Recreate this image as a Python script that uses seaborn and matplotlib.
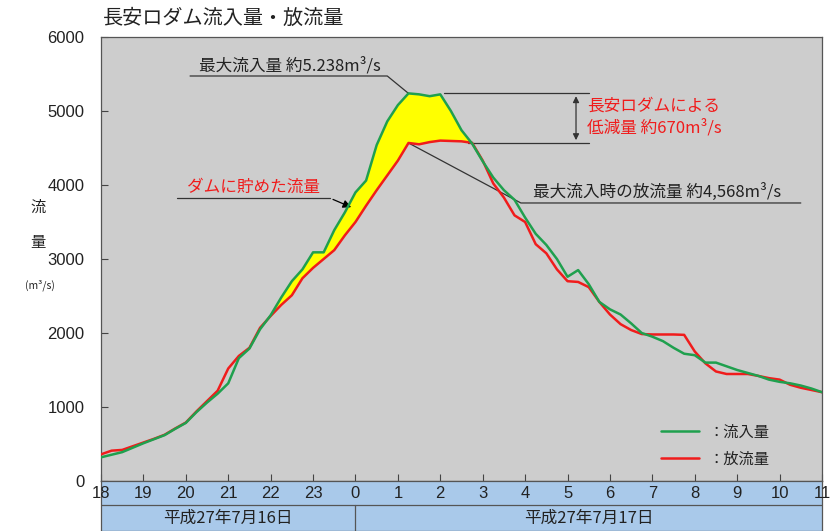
import matplotlib
matplotlib.use("Agg")
import matplotlib.pyplot as plt
import numpy as np
import seaborn as sns


CJK = ["Noto Sans CJK JP", "DejaVu Sans"]
NARROW = ["Liberation Sans Narrow", "Liberation Sans", "DejaVu Sans"]

GREEN = "#1fa04e"
RED = "#f01c1c"
YELLOW = "#ffff00"
PLOT_BG = "#cdcdcd"
BAND_BG = "#a9c9ea"
INK = "#222222"

HOUR_LABELS = ["18", "19", "20", "21", "22", "23", "0", "1", "2", "3",
               "4", "5", "6", "7", "8", "9", "10", "11"]
DATE_LABELS = ["平成27年7月16日", "平成27年7月17日"]
Y_TICKS = [0, 1000, 2000, 3000, 4000, 5000, 6000]

# 15-minute readings from 18:00 on 16 July (m3/s)
INFLOW = [320, 355, 390, 450, 510, 565, 620, 705, 785, 930,
          1060, 1180, 1320, 1660, 1790, 2050, 2240, 2480, 2700, 2860,
          3090, 3090, 3390, 3630, 3900, 4060, 4540, 4860, 5080, 5238,
          5225, 5200, 5225, 5000, 4740, 4560, 4320, 4100, 3930, 3800,
          3560, 3340, 3190, 3000, 2760, 2850, 2660, 2420, 2320, 2250,
          2130, 2000, 1950, 1890, 1800, 1720, 1700, 1600, 1600, 1550,
          1500, 1460, 1420, 1370, 1340, 1320, 1290, 1250, 1200]
OUTFLOW = [360, 410, 420, 470, 520, 570, 625, 710, 790, 940,
           1080, 1220, 1520, 1690, 1800, 2070, 2230, 2380, 2510, 2740,
           2880, 3000, 3120, 3320, 3500, 3720, 3930, 4130, 4330, 4568,
           4550, 4580, 4600, 4595, 4590, 4570, 4330, 4020, 3830, 3590,
           3500, 3200, 3077, 2860, 2700, 2690, 2620, 2420, 2250, 2120,
           2040, 1986, 1980, 1980, 1980, 1975, 1750, 1590, 1480, 1446,
           1446, 1446, 1420, 1390, 1370, 1300, 1260, 1230, 1200]


sns.set_theme(style="white")
plt.rcParams["font.family"] = CJK

hours = np.arange(len(INFLOW)) / 4
inflow = np.array(INFLOW)
outflow = np.array(OUTFLOW)
n_hours = len(HOUR_LABELS) - 1

fig = plt.figure(figsize=(8.32, 5.31), dpi=100)
ax = fig.add_axes([101 / 832, 50 / 531, 721 / 832, 444 / 531])
band = fig.add_axes([101 / 832, 0, 721 / 832, 50 / 531])

ax.set_facecolor(PLOT_BG)
ax.fill_between(hours, outflow, inflow, where=(inflow > outflow) & (hours < 9),
                interpolate=True, color=YELLOW, linewidth=0, zorder=2)
sns.lineplot(x=hours, y=inflow, color=GREEN, linewidth=1.8, ax=ax, zorder=4,
             label="：流入量")
sns.lineplot(x=hours, y=outflow, color=RED, linewidth=1.8, ax=ax, zorder=3,
             label="：放流量")

ax.set_xlim(0, n_hours)
ax.set_ylim(0, 6000)
ax.set_xticks(range(len(HOUR_LABELS)))
ax.set_xticklabels([])
ax.set_yticks(Y_TICKS)
ax.set_yticklabels([str(v) for v in Y_TICKS])
for lab in ax.get_yticklabels():
    lab.set_fontfamily(NARROW)
ax.tick_params(axis="x", direction="in", length=5, width=0.8, color="#444444", bottom=True)
ax.tick_params(axis="y", direction="in", length=5, width=0.8, color="#444444",
               left=True, pad=12, labelsize=12, labelcolor=INK)
ax.set_xlabel("")
ax.set_ylabel("")
for sp in ax.spines.values():
    sp.set_color("#555555")
    sp.set_linewidth(0.9)

# peak annotations
i_peak = int(np.argmax(inflow))
t_peak, q_peak, q_out = hours[i_peak], inflow[i_peak], outflow[i_peak]

ax.text(2.3, 5500, "最大流入量 約5.238m³/s", fontsize=12, color=INK, va="bottom")
ax.plot([2.1, 6.75, t_peak], [5473, 5473, q_peak], color="#333333", lw=0.9)

ax.text(2.03, 3850, "ダムに貯めた流量", fontsize=12, color=RED, va="bottom")
ax.plot([1.79, 5.41], [3820, 3820], color="#333333", lw=0.9)
ax.annotate("", xy=(5.96, 3685), xytext=(5.41, 3820),
            arrowprops=dict(arrowstyle="-|>", color="black", lw=0.9, mutation_scale=12))

ax.plot([8.09, 11.5], [q_peak, q_peak], color="#333333", lw=0.9)
ax.plot([8.65, 11.5], [q_out, q_out], color="#333333", lw=0.9)
ax.annotate("", xy=(11.2, q_out), xytext=(11.2, q_peak),
            arrowprops=dict(arrowstyle="<|-|>", color="#333333", lw=0.9, mutation_scale=9))
ax.text(11.46, 4920, "長安ロダムによる\n低減量 約670m³/s", fontsize=12, color=RED,
        va="center", linespacing=1.3)

ax.plot([t_peak, 9.9, 16.5], [q_out, 3757, 3757], color="#333333", lw=0.9)
ax.text(10.19, 3790, "最大流入時の放流量 約4,568m³/s", fontsize=12, color=INK, va="bottom")

leg = ax.legend(loc="upper left", bbox_to_anchor=(0.758, 0.16), frameon=False,
                fontsize=11, handlelength=2.5, handletextpad=0.6, labelspacing=0.65)
for t in leg.get_texts():
    t.set_color(INK)

# time band under the plot
band.set_facecolor(BAND_BG)
band.set_xlim(0, n_hours)
band.set_ylim(0, 50)
band.set_xticks([])
band.set_yticks([])
for sp in band.spines.values():
    sp.set_color("#555555")
    sp.set_linewidth(0.9)
band.axhline(26, color="#555555", lw=0.9)
midnight = HOUR_LABELS.index("0")
band.plot([midnight, midnight], [0, 26], color="#555555", lw=0.9)
for i, lab in enumerate(HOUR_LABELS):
    band.text(i, 38, lab, ha="center", va="center", fontsize=12, color=INK,
              family=NARROW, clip_on=False)
band.text(midnight / 2, 13, DATE_LABELS[0], ha="center", va="center", fontsize=12, color=INK)
band.text((midnight + n_hours) / 2, 13, DATE_LABELS[1], ha="center", va="center",
          fontsize=12, color=INK)

# titles
fig.text(103 / 832, 1 - 18 / 531, "長安ロダム流入量・放流量", fontsize=14.5, color=INK, va="center")
fig.text(38 / 832, 1 - 207 / 531, "流", fontsize=11, color=INK, ha="center", va="center")
fig.text(38 / 832, 1 - 243 / 531, "量", fontsize=11, color=INK, ha="center", va="center")
fig.text(40 / 832, 1 - 285 / 531, "(m³/s)", fontsize=7.5, color=INK, ha="center", va="center")

fig.savefig("out.png", dpi=100, facecolor="white")
